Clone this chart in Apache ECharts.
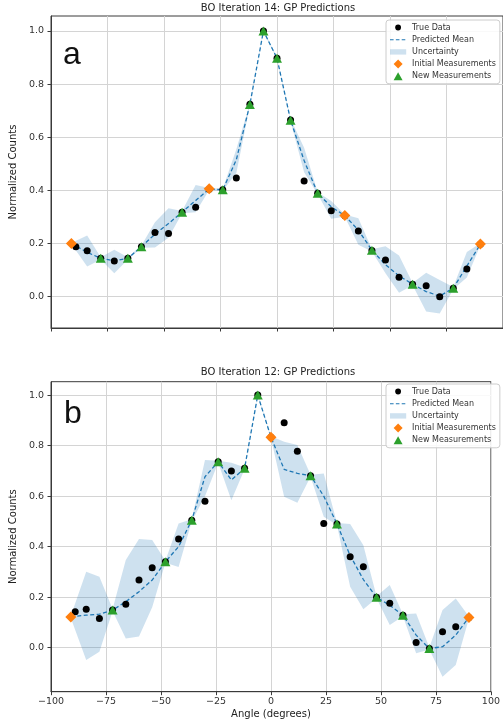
<!DOCTYPE html>
<html lang="en">
<head>
    <meta charset="UTF-8">
    <title>BO GP Predictions</title>
    <script src="https://cdn.jsdelivr.net/npm/echarts@6/dist/echarts.min.js"></script>
    <style>
        html, body { margin: 0; padding: 0; background: #fff; }
        #main { width: 503px; height: 726px; }
    </style>
</head>
<body>
    <div id="main"></div>

    <script>
        // angles of the scan grid (true data) and of the GP prediction grid
        const trueAngles = [-89, -84, -78, -72, -66, -60, -54, -48, -42, -36, -30, -24, -18, -12, -6, 0, 6, 12, 18, 24, 30, 36, 42, 48, 54, 60, 66, 72, 78, 84, 90]
        const predAngles = [-91, -84, -78, -72, -66, -60, -54, -48, -42, -36, -30, -24, -18, -12, -6, 0, 6, 12, 18, 24, 30, 36, 42, 48, 54, 60, 66, 72, 78, 84, 90]

        // panel a : iteration 14
        const trueA = [0.188, 0.173, 0.144, 0.134, 0.144, 0.188, 0.241, 0.238, 0.318, 0.336, 0.404, 0.402, 0.446, 0.724, 1.0, 0.897, 0.665, 0.435, 0.389, 0.323, 0.304, 0.247, 0.174, 0.138, 0.073, 0.047, 0.041, 0.0, 0.032, 0.104, 0.197]
        const meanA = [0.200, 0.167, 0.144, 0.135, 0.144, 0.188, 0.235, 0.275, 0.318, 0.362, 0.405, 0.402, 0.515, 0.723, 1.0, 0.897, 0.664, 0.512, 0.389, 0.338, 0.305, 0.250, 0.175, 0.120, 0.078, 0.047, 0.019, 0.002, 0.032, 0.115, 0.197]
        const lowA  = [0.198, 0.113, 0.140, 0.088, 0.140, 0.184, 0.185, 0.222, 0.314, 0.318, 0.401, 0.398, 0.465, 0.719, 0.996, 0.893, 0.660, 0.468, 0.385, 0.293, 0.301, 0.195, 0.170, 0.088, 0.015, 0.043, -0.056, -0.063, 0.028, 0.072, 0.193]
        const upA   = [0.202, 0.230, 0.148, 0.176, 0.148, 0.192, 0.280, 0.333, 0.322, 0.420, 0.409, 0.406, 0.555, 0.727, 1.004, 0.901, 0.668, 0.560, 0.393, 0.360, 0.309, 0.295, 0.178, 0.190, 0.155, 0.051, 0.090, 0.063, 0.036, 0.168, 0.201]
        const initAx = [-91, -30, 30, 90]
        const initAy = [0.200, 0.406, 0.305, 0.198]
        const newAx = [-78, -66, -60, -42, -24, -12, -6, 0, 6, 18, 42, 60, 78]
        const newAy = [0.144, 0.144, 0.188, 0.318, 0.402, 0.723, 1.0, 0.897, 0.664, 0.389, 0.175, 0.047, 0.032]

        // panel b : iteration 12
        const trueB = [0.142, 0.152, 0.116, 0.149, 0.172, 0.268, 0.317, 0.340, 0.430, 0.505, 0.580, 0.736, 0.700, 0.710, 1.0, 0.833, 0.891, 0.778, 0.681, 0.492, 0.490, 0.360, 0.321, 0.200, 0.176, 0.129, 0.021, -0.003, 0.063, 0.083, 0.120]
        const meanB = [0.122, 0.129, 0.133, 0.149, 0.182, 0.222, 0.268, 0.340, 0.400, 0.505, 0.677, 0.736, 0.664, 0.710, 1.0, 0.833, 0.706, 0.690, 0.681, 0.600, 0.490, 0.365, 0.270, 0.200, 0.168, 0.129, 0.050, -0.003, 0.004, 0.050, 0.120]
        const lowB  = [0.118, -0.049, -0.016, 0.145, 0.037, 0.044, 0.160, 0.336, 0.320, 0.501, 0.600, 0.732, 0.584, 0.706, 0.996, 0.829, 0.598, 0.574, 0.677, 0.518, 0.486, 0.241, 0.152, 0.196, 0.090, 0.125, -0.022, -0.007, -0.115, -0.068, 0.116]
        const upB   = [0.126, 0.301, 0.281, 0.153, 0.347, 0.430, 0.426, 0.344, 0.492, 0.509, 0.743, 0.740, 0.732, 0.714, 1.004, 0.837, 0.815, 0.802, 0.685, 0.690, 0.494, 0.490, 0.406, 0.204, 0.248, 0.133, 0.136, 0.001, 0.149, 0.195, 0.124]
        const initBx = [-91, 0, 90]
        const initBy = [0.122, 0.833, 0.120]
        const newBx = [-72, -48, -36, -24, -12, -6, 18, 30, 48, 60, 72]
        const newBy = [0.149, 0.340, 0.505, 0.736, 0.710, 1.0, 0.681, 0.490, 0.200, 0.129, -0.003]

        const yTicks = [0, 0.2, 0.4, 0.6, 0.8, 1.0]
        const titles = ['BO Iteration 14: GP Predictions', 'BO Iteration 12: GP Predictions']

        const FONT = 'DejaVu Sans'
        const C0 = '#1f77b4'
        const BAND = 'rgba(31,119,180,0.22)'
        const pair = (xs, ys) => xs.map((x, i) => [x, ys[i]])
        const minus = v => (v < 0 ? '\u2212' + Math.abs(v) : String(v))

        const chart = echarts.init(document.getElementById('main'), null, { renderer: 'canvas' })

        // whole fill_between polygon, drawn once from the rows [x, low, up]
        function bandRender (params, api) {
            if (params.dataIndex !== 0) return
            const n = params.dataInsideLength !== undefined ? params.dataInsideLength : 0
            const rows = params.context.rows
            const top = rows.map(r => api.coord([r[0], r[2]]))
            const bot = rows.map(r => api.coord([r[0], r[1]])).reverse()
            return {
                type: 'polygon',
                shape: { points: top.concat(bot) },
                style: { fill: BAND, stroke: null },
                silent: true
            }
        }

        function panelSeries (idx, tr, mean, low, up, ix, iy, nx, ny) {
            const rows = predAngles.map((x, i) => [x, low[i], up[i]])
            return [
                {
                    name: 'Uncertainty', type: 'custom', xAxisIndex: idx, yAxisIndex: idx,
                    data: rows, encode: { x: 0, y: [1, 2] },
                    renderItem: (params, api) => {
                        params.context.rows = rows
                        return bandRender(params, api)
                    },
                    itemStyle: { color: BAND }, clip: true, z: 1
                },
                {
                    name: 'Predicted Mean', type: 'line', xAxisIndex: idx, yAxisIndex: idx,
                    data: pair(predAngles, mean), symbol: 'none', showSymbol: false,
                    lineStyle: { color: C0, width: 1.3, type: [4, 2.5] },
                    itemStyle: { color: C0 }, z: 2
                },
                {
                    name: 'True Data', type: 'scatter', xAxisIndex: idx, yAxisIndex: idx,
                    data: pair(trueAngles, tr), symbol: 'circle', symbolSize: 7,
                    itemStyle: { color: '#000', opacity: 1 }, z: 3
                },
                {
                    name: 'Initial Measurements', type: 'scatter', xAxisIndex: idx, yAxisIndex: idx,
                    data: pair(ix, iy), symbol: 'diamond', symbolSize: 11,
                    itemStyle: { color: '#ff7f0e', opacity: 1 }, z: 4
                },
                {
                    name: 'New Measurements', type: 'scatter', xAxisIndex: idx, yAxisIndex: idx,
                    data: pair(nx, ny), symbol: 'triangle', symbolSize: [10, 9],
                    itemStyle: { color: '#2ca02c', opacity: 1 }, z: 5
                }
            ]
        }

        function xAxis (idx, showLabels) {
            return {
                type: 'value', gridIndex: idx, min: -100, max: 100, interval: 25,
                name: showLabels ? 'Angle (degrees)' : '', nameLocation: 'middle', nameGap: 18,
                nameTextStyle: { fontFamily: FONT, fontSize: 10, color: '#222' },
                axisLine: { show: true, onZero: false, lineStyle: { color: '#3a3a3a', width: 1 } },
                axisTick: { show: true, length: 3.5, lineStyle: { color: '#3a3a3a' } },
                axisLabel: { show: showLabels, margin: 5, fontFamily: FONT, fontSize: 9.5, color: '#333', formatter: minus },
                splitLine: { show: true, lineStyle: { color: '#d4d4d4', width: 1 } }
            }
        }

        function yAxis (idx, min, max) {
            return {
                type: 'value', gridIndex: idx, min: min, max: max,
                name: 'Normalized Counts', nameLocation: 'middle', nameGap: 30,
                nameTextStyle: { fontFamily: FONT, fontSize: 10, color: '#222' },
                axisLine: { show: true, onZero: false, lineStyle: { color: '#3a3a3a', width: 1 } },
                axisTick: { show: true, length: 3.5, customValues: yTicks, lineStyle: { color: '#3a3a3a' } },
                axisLabel: { margin: 7, fontFamily: FONT, fontSize: 9.5, color: '#333', customValues: yTicks,
                    formatter: v => (v < 0 ? '\u2212' : '') + Math.abs(v).toFixed(1) },
                splitLine: { show: true, lineStyle: { color: '#d4d4d4', width: 1 } }
            }
        }

        function legend (top) {
            return {
                orient: 'vertical', left: 386, top: top,
                itemWidth: 18, itemHeight: 9, itemGap: 3.2,
                padding: [3, 4, 3, 4],
                backgroundColor: 'rgba(255,255,255,0.85)', borderColor: '#cccccc', borderWidth: 1, borderRadius: 3,
                textStyle: { fontFamily: FONT, fontSize: 8, color: '#333' },
                symbolKeepAspect: true,
                data: [
                    { name: 'True Data', icon: 'path://M0,0M10,10M1.8,5a3.2,3.2 0 1,0 6.4,0a3.2,3.2 0 1,0 -6.4,0z' },
                    { name: 'Predicted Mean', icon: 'path://M0,4.4h4v1.2h-4zM6.5,4.4h4v1.2h-4zM13,4.4h4v1.2h-4zM0,0M18,10' },
                    { name: 'Uncertainty', icon: 'path://M0,2h18v6h-18zM0,0M18,10' },
                    { name: 'Initial Measurements', icon: 'path://M5,0L10,5L5,10L0,5Z' },
                    { name: 'New Measurements', icon: 'path://M5,0.5L10,9.5L0,9.5ZM5,0M5,10' }
                ],
                selectedMode: false
            }
        }

        const gridStyle = { show: true, borderColor: '#3a3a3a', borderWidth: 1, backgroundColor: 'transparent' }

        chart.setOption({
            animation: false,
            grid: [
                Object.assign({ left: 48.5, right: -5, top: 16, bottom: 398 }, gridStyle),
                Object.assign({ left: 48.5, right: -5, top: 381.7, bottom: 34.3 }, gridStyle)
            ],
            xAxis: [xAxis(0, false), xAxis(1, true)],
            yAxis: [yAxis(0, -0.118, 1.056), yAxis(1, -0.174, 1.053)],
            legend: [legend(20), legend(384)],
            graphic: [
                { type: 'text', x: 278, y: 8, style: { text: titles[0], align: 'center', verticalAlign: 'middle', font: '10px "DejaVu Sans"', fill: '#222' } },
                { type: 'text', x: 278, y: 372, style: { text: titles[1], align: 'center', verticalAlign: 'middle', font: '10px "DejaVu Sans"', fill: '#222' } },
                { type: 'text', x: 72, y: 55, style: { text: 'a', align: 'center', verticalAlign: 'middle', font: '32px "Liberation Sans"', fill: '#111' } },
                { type: 'text', x: 73, y: 414, style: { text: 'b', align: 'center', verticalAlign: 'middle', font: '32px "Liberation Sans"', fill: '#111' } }
            ],
            series: [].concat(
                panelSeries(0, trueA, meanA, lowA, upA, initAx, initAy, newAx, newAy),
                panelSeries(1, trueB, meanB, lowB, upB, initBx, initBy, newBx, newBy)
            )
        })
    </script>
</body>
</html>
